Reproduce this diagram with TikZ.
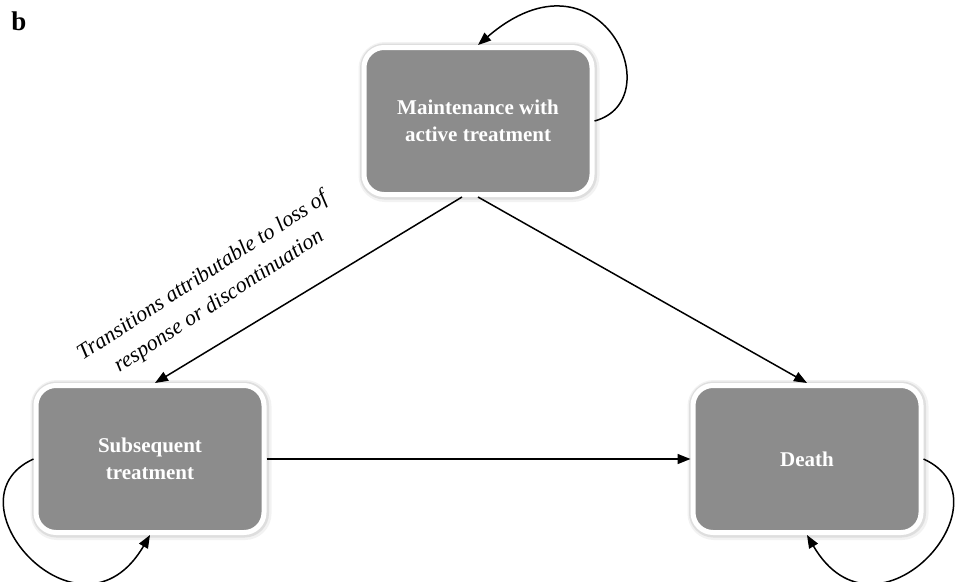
\documentclass[tikz,border=0pt]{standalone}
\usepackage{fontspec}
\setmainfont{Liberation Serif}
\usepackage{xcolor}
\usetikzlibrary{arrows.meta}
\usetikzlibrary{positioning}
\usetikzlibrary{shadows}
\definecolor{boxgray}{HTML}{8C8C8C}

\begin{document}
\begin{tikzpicture}[x=1pt, y=-1pt, >={Triangle[length=13pt,width=10pt]}, line width=1.5pt, node distance = 338pt and 328pt, on grid,
  state/.style ={rectangle, rounded corners=20pt, draw=white, line width=5pt, fill=boxgray, text=white, align=center,
    font=\fontsize{21}{27}\selectfont\bfseries, minimum width=228pt, minimum height=147pt,
    preaction={draw=black!5, line width=13pt, transform canvas={xshift=1pt, yshift=-1pt}},
    preaction={draw=black!13, line width=9pt, transform canvas={xshift=0.5pt, yshift=-0.5pt}}},
  note/.style ={font=\fontsize{22}{30}\selectfont\itshape, align=center}]
\useasboundingbox (0,0) rectangle (965,581);
%\node[state] (maint) {Maintenance with\\active treatment};
\node[state] (maint) at (478,121) {Maintenance with\\active treatment};
\node[state] (subs) [below left =of maint] {Subsequent\\treatment};
\node[state] (death) [right =657pt of subs] {Death};
\node[font=\fontsize{27}{30}\selectfont\bfseries] (panel) at (19,21) {b};
\node[note, rotate=33] (loss) at (211,289) {Transitions attributable to loss of\\response or discontinuation};
\path[->]
		([xshift=-16pt]maint.south) edge		([xshift=5pt]subs.north)
		(maint.south) edge				(death.north)
		(subs.east) edge				(death.west)
		;
%self loops
\draw[->] (maint.east) .. controls +(78,-21) and +(122,-105) .. (maint.north);
\draw[->] (subs.west) .. controls +(-91,41) and +(-70,120) .. (subs.south);
\draw[->] (death.east) .. controls +(91,41) and +(70,120) .. (death.south);
\end{tikzpicture}
\end{document}
